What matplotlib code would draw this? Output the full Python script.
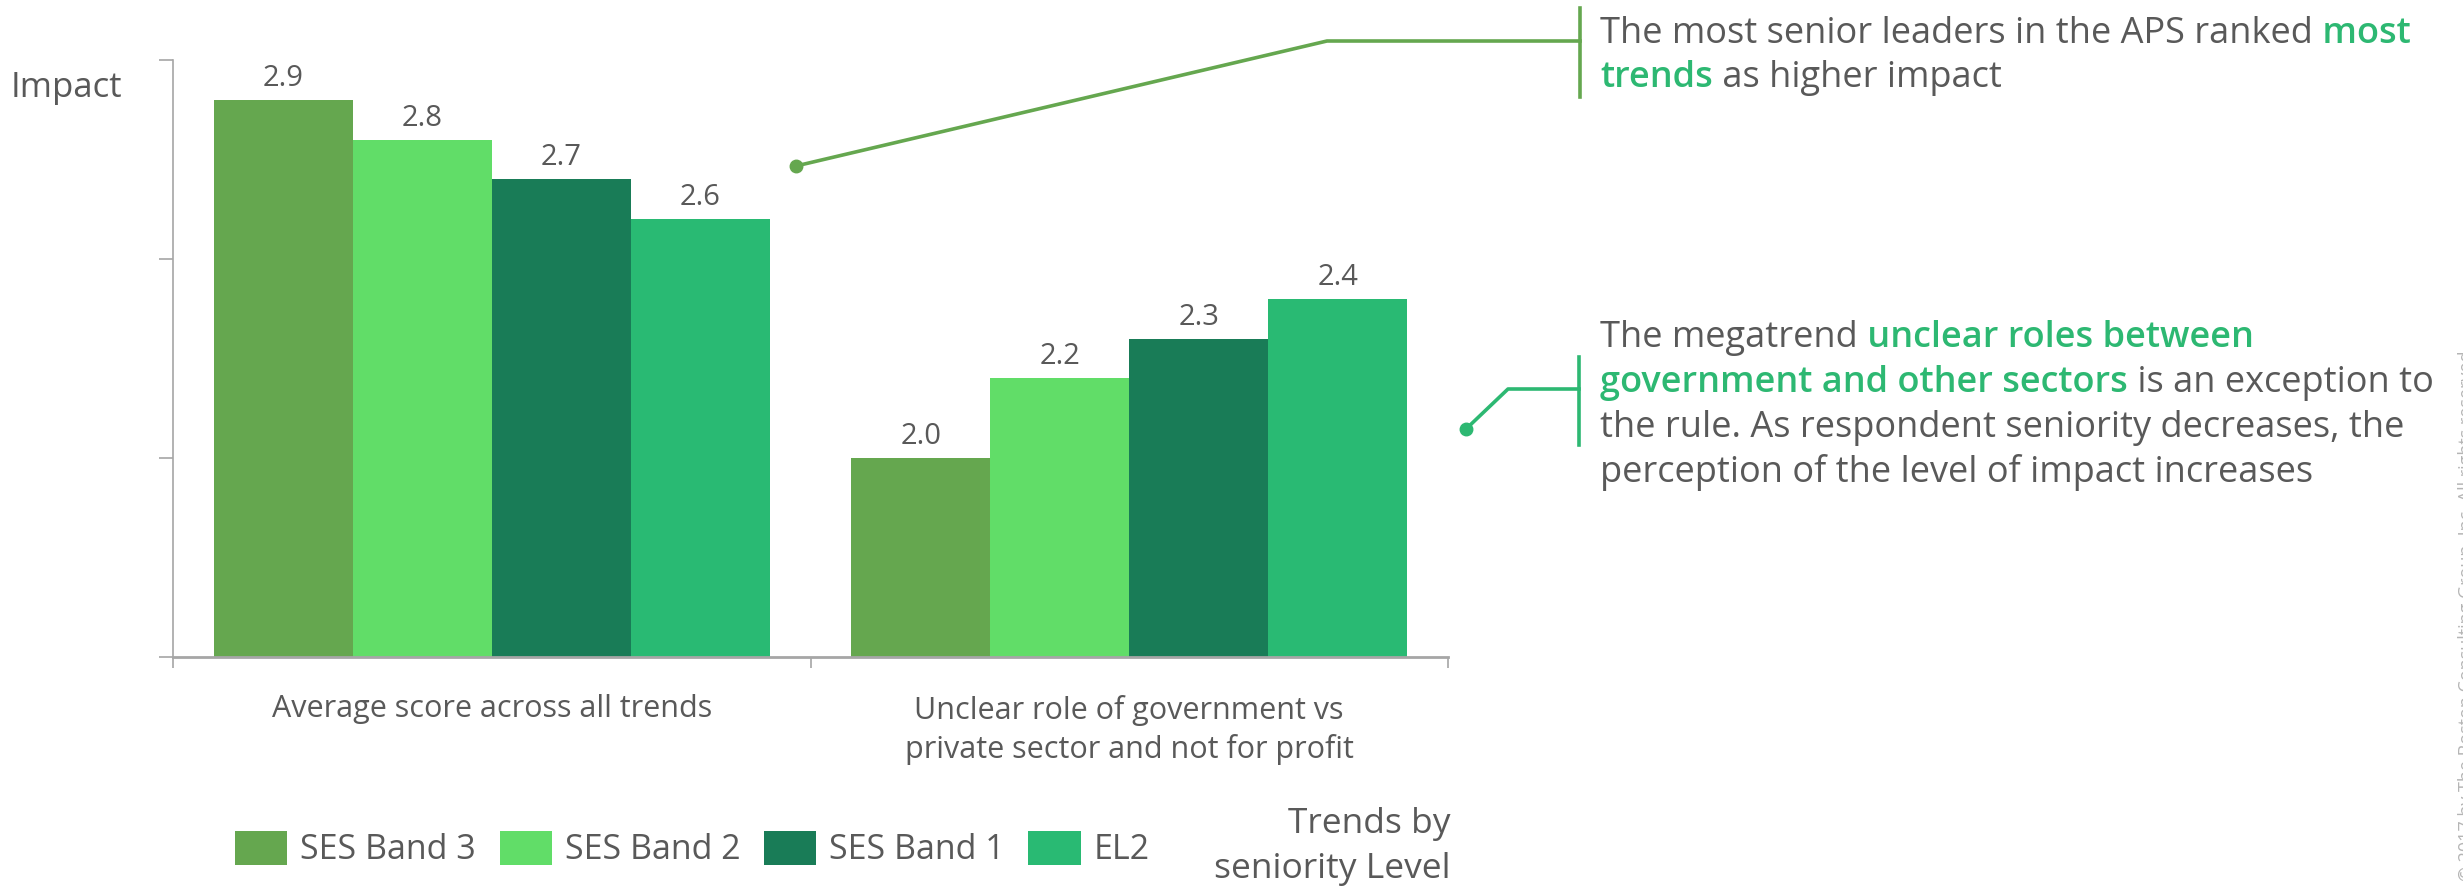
import matplotlib
matplotlib.use("Agg")
import matplotlib.pyplot as plt
import matplotlib.transforms as mtransforms
from matplotlib.lines import Line2D
from matplotlib.patches import Patch
import numpy as np

# ---------------- data ----------------
categories = ["Average score across all trends",
              "Unclear role of government vs\nprivate sector and not for profit"]
series_names = ["SES Band 3", "SES Band 2", "SES Band 1", "EL2"]
ses_band3 = [2.9, 2.0]
ses_band2 = [2.8, 2.2]
ses_band1 = [2.7, 2.3]
el2 = [2.6, 2.4]
series_values = [ses_band3, ses_band2, ses_band1, el2]
colors = ["#65A74F", "#61DD68", "#197C57", "#29BA73"]

y_label = "Impact"
legend_title_lines = ["Trends by", "seniority Level"]

# ---------------- styling ----------------
FONT = ["Open Sans", "DejaVu Sans"]
TXT = "#595959"
HL = "#2DB872"
GREEN1 = "#65A74F"
GREEN2 = "#2DB872"
AXC = "#A6A6A6"
W, H = 2463, 886
plt.rcParams['font.family'] = FONT

fig = plt.figure(figsize=(W / 100, H / 100), dpi=100)
renderer = fig.canvas.get_renderer()
PX = mtransforms.Affine2D().scale(1, -1).translate(0, H)  # pixel coords from top-left

ax = fig.add_axes([173 / W, 1 - 657 / H, (1448 - 173) / W, (657 - 60) / H])

x = np.arange(len(categories))
bw = 0.218
offsets = (np.arange(len(series_names)) - 1.5) * bw
for vals, name, col, off in zip(series_values, series_names, colors, offsets):
    bars = ax.bar(x + off, vals, bw, color=col, label=name, linewidth=0)
    ax.bar_label(bars, fmt="%.1f", padding=5, fontsize=21, color=TXT)

ax.set_xlim(-0.5, 1.5)
ax.set_ylim(1.5, 3.0)
ax.set_yticks([1.5, 2.0, 2.5, 3.0])
ax.set_yticklabels([])
ax.tick_params(axis='y', length=10, width=1.2, color=AXC, direction='out')
ax.set_xticks(x)
ax.set_xticklabels(categories, fontsize=22, color=TXT, linespacing=1.35)
ax.tick_params(axis='x', which='major', length=0, pad=27)
ax.set_xticks([-0.5, 0.5, 1.5], minor=True)
ax.tick_params(axis='x', which='minor', length=8, width=1.2, color=AXC, direction='out')
for s in ['top', 'right']:
    ax.spines[s].set_visible(False)
ax.spines['left'].set_color(AXC)
ax.spines['left'].set_linewidth(1.2)
ax.spines['bottom'].set_color(AXC)
ax.spines['bottom'].set_linewidth(2)

# y label
fig.text(11, 97, y_label, transform=PX, fontsize=25, color=TXT, va='baseline', ha='left')

# legend
handles = [Patch(facecolor=c, edgecolor='none') for c in colors]
ax.legend(handles, series_names, loc='center left',
          bbox_to_anchor=(235 / W, 1 - 849 / H), bbox_transform=fig.transFigure,
          ncol=4, frameon=False, fontsize=24.5, labelcolor=TXT,
          handlelength=1.53, handleheight=1.18, handletextpad=0.38,
          columnspacing=0.7, borderpad=0, borderaxespad=0)
fig.text(1450, 833, legend_title_lines[0], transform=PX, fontsize=25.5, color=TXT,
         ha='right', va='baseline')
fig.text(1450, 878, legend_title_lines[1], transform=PX, fontsize=25.5, color=TXT,
         ha='right', va='baseline')


def rich_line(x0, y0, parts, size=26):
    trans = mtransforms.offset_copy(PX, x=0, y=0, units='dots')
    for s, c, wgt in parts:
        t = fig.text(x0, y0, s, color=c, fontsize=size, fontweight=wgt,
                     transform=trans, va='baseline', ha='left')
        ex = t.get_window_extent(renderer)
        trans = mtransforms.offset_copy(t.get_transform(), x=ex.width, units='dots')


# callout 1
fig.add_artist(Line2D([796, 1327, 1580], [166, 41, 41], transform=PX, color=GREEN1, lw=2.6))
fig.add_artist(Line2D([796], [166], transform=PX, color=GREEN1, marker='o', markersize=9, lw=0))
fig.add_artist(Line2D([1580, 1580], [8, 97], transform=PX, color=GREEN1, lw=2.6))
rich_line(1600, 43, [("The most senior leaders in the APS ranked", TXT, 'normal'), (" most", HL, 'semibold')])
rich_line(1600, 87, [("trends", HL, 'semibold'), (" as higher impact", TXT, 'normal')])

# callout 2
fig.add_artist(Line2D([1466, 1508, 1579], [429, 389, 389], transform=PX, color=GREEN2, lw=2.6))
fig.add_artist(Line2D([1466], [429], transform=PX, color=GREEN2, marker='o', markersize=9, lw=0))
fig.add_artist(Line2D([1579, 1579], [357, 445], transform=PX, color=GREEN2, lw=2.6))
rich_line(1600, 347, [("The megatrend", TXT, 'normal'), (" unclear roles between", HL, 'semibold')])
rich_line(1600, 392, [("government and other sectors", HL, 'semibold'), (" is an exception to", TXT, 'normal')])
rich_line(1600, 437, [("the rule. As respondent seniority decreases, the", TXT, 'normal')])
rich_line(1600, 482, [("perception of the level of impact increases", TXT, 'normal')])

# copyright (cut at right edge)
fig.text(2467, 881, "© 2017 by The Boston Consulting Group, Inc. All rights reserved.",
         transform=PX, rotation=90, fontsize=13, color="#B5B5B5", ha='center', va='bottom')

fig.savefig("out.png", dpi=100)
